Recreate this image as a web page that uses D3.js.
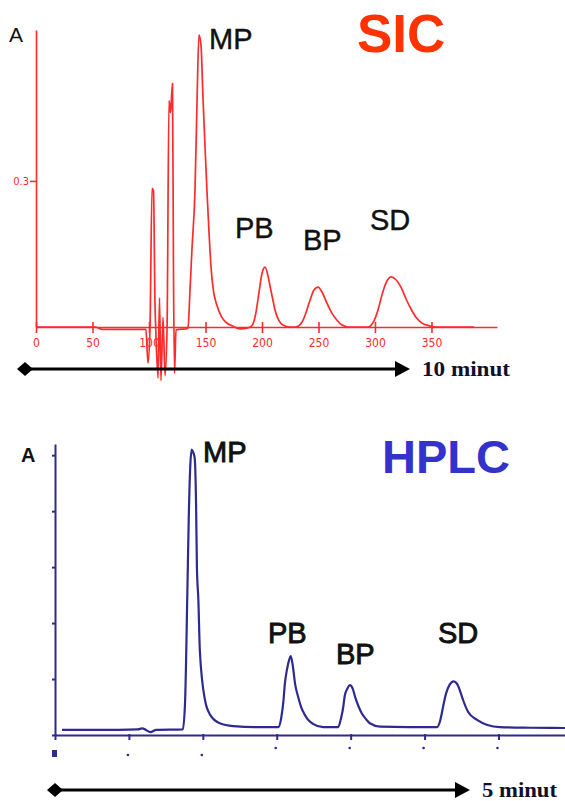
<!DOCTYPE html>
<head>
    <meta charset="utf-8">
    <title>SIC vs HPLC chromatograms</title>
    <style>
        body { margin: 0; background: #fff; }
        svg { display: block; }
        text { font-family: "Liberation Sans", Arial, sans-serif; }
    </style>
</head>
<body>
    <svg width="565" height="801"></svg>

    <script src="https://d3js.org/d3.v7.min.js"></script>
    <script>

        // SIC trace (instrument time units, absorbance)
        var sicTime = [0, 52, 59, 97.3, 99.1, 100.9, 102.7, 104, 105.3, 106.2, 108, 109.3, 110.6, 112.4, 114.2, 116,
            117.7, 119, 120.8, 121.7, 122.6, 123.9, 134.5, 136.3, 138, 140.7, 142.5, 144.2, 146, 147.8, 149.6,
            151.3, 153, 155, 157, 160, 164, 168, 174, 180.5, 187.6, 191.2, 194.7, 197.3, 200, 202.7, 205.3, 207.3,
            209.7, 211.5, 215, 218.6, 224.8, 229.2, 235.4, 239, 242.5, 246, 249.6, 253.1, 257.5, 262, 266.4,
            270.8, 276, 293.8, 299, 302.7, 306.2, 309.7, 314.2, 318.6, 323, 327.4, 331.9, 336.3, 341.6, 348.7,
            353.9, 387.6];
        var sicAbs = [0, 0, -0.005, -0.005, -0.074, 0, 0.285, 0.28, 0.05, -0.02, -0.105, 0.06, -0.11, 0.02, -0.1, 0,
            0.465, 0.44, 0.5, 0.1, -0.095, -0.006, -0.003, 0.076, 0.158, 0.28, 0.46, 0.6, 0.58, 0.47, 0.37,
            0.28, 0.2, 0.12, 0.075, 0.045, 0.022, 0.01, 0.002, -0.004, -0.002, 0.003, 0.03, 0.07, 0.11, 0.123, 0.105, 0.082,
            0.055, 0.035, 0.013, 0.004, 0, 0, 0.01, 0.03, 0.055, 0.076, 0.082, 0.072, 0.049, 0.028, 0.014,
            0.004, 0, 0, 0.012, 0.035, 0.066, 0.09, 0.103, 0.097, 0.082, 0.058, 0.037, 0.02, 0.008, 0.002,
            0, 0];
        var sicTicks = [0, 50, 100, 150, 200, 250, 300, 350];
        var sicYTicks = [0.3];

        // HPLC trace (unlabelled time axis, arbitrary absorbance)
        var hplcTime = [0.095, 0.61, 1.12, 1.18, 1.23, 1.29, 1.37, 1.73, 1.76, 1.79, 1.81, 1.83, 1.85, 1.87, 1.89,
            1.91, 1.92, 1.94, 1.96, 2.03, 2.10, 2.23, 2.41, 2.77, 3.02, 3.06, 3.09, 3.11, 3.14, 3.17, 3.19, 3.22,
            3.25, 3.29, 3.33, 3.38, 3.44, 3.49, 3.63, 3.83, 3.87, 3.90, 3.92, 3.96, 3.99, 4.03, 4.06, 4.11, 4.15,
            4.21, 4.26, 4.40, 5.17, 5.21, 5.25, 5.29, 5.34, 5.39, 5.43, 5.45, 5.49, 5.52, 5.59, 5.71, 5.85, 6.02,
            6.43, 6.9];
        var hplcAbs = [0.09, 0.09, 0.1, 0.12, 0.09, 0.05, 0.09, 0.1, 0.6, 2.5, 3.9, 4.8, 5.1, 5.05, 4.95,
            4.0, 3.0, 2.4, 1.5, 0.62, 0.36, 0.21, 0.16, 0.14, 0.14, 0.3, 0.6, 0.92, 1.18, 1.35, 1.41, 1.21,
            0.9, 0.68, 0.5, 0.36, 0.25, 0.2, 0.14, 0.14, 0.3, 0.5, 0.7, 0.84, 0.89, 0.82, 0.68, 0.5, 0.39,
            0.28, 0.21, 0.15, 0.14, 0.25, 0.5, 0.74, 0.9, 0.96, 0.93, 0.89, 0.75, 0.63, 0.41, 0.27, 0.18, 0.14,
            0.13, 0.125];
        var hplcTicks = [0, 1, 2, 3, 4, 5, 6];
        var hplcYTicks = [0, 1, 2, 3, 4, 5];

        var peakNames = ["MP", "PB", "BP", "SD"];

        var svg = d3.select("svg");
        var red = "#ff2a2a", blue = "#2e2a90";

        // ---------- SIC panel ----------
        var x1 = d3.scaleLinear().domain([0, 408]).range([36, 497]);
        var y1 = d3.scaleLinear().domain([0, 0.61]).range([327, 30]);

        var gx1 = svg.append("g")
            .attr("transform", "translate(0," + y1(0) + ")")
            .call(d3.axisBottom(x1).tickValues(sicTicks).tickSize(6).tickSizeOuter(0));
        gx1.selectAll("line").attr("y1", -5).attr("y2", 6);
        gx1.selectAll("text").attr("y", 11);

        var gy1 = svg.append("g")
            .attr("transform", "translate(" + x1(0) + ",0)")
            .call(d3.axisLeft(y1).tickValues(sicYTicks).tickFormat(d3.format(".1f")).tickSize(6).tickSizeOuter(0));
        gy1.selectAll("text").attr("x", -7);

        [gx1, gy1].forEach(function (g) {
            g.selectAll("path, line").attr("stroke", red).attr("stroke-width", 1.6);
            g.selectAll("text").attr("fill", red)
                .style("font-family", "'DejaVu Sans Condensed', 'Liberation Sans Narrow', sans-serif")
                .style("font-size", "12px");
        });
        gy1.selectAll("text").style("font-size", "11px");

        svg.append("path")
            .datum(d3.zip(sicTime, sicAbs))
            .attr("fill", "none")
            .attr("stroke", red)
            .attr("stroke-width", 1.7)
            .attr("d", d3.line()
                .x(function (d) { return x1(d[0]); })
                .y(function (d) { return y1(d[1]); })
                .curve(d3.curveMonotoneX));

        // ---------- HPLC panel ----------
        var x2 = d3.scaleLinear().domain([0, 6.9]).range([55, 565]);
        var y2 = d3.scaleLinear().domain([0, 5.2]).range([735, 444]);

        var gx2 = svg.append("g")
            .attr("transform", "translate(0," + y2(0) + ")")
            .call(d3.axisBottom(x2).tickValues(hplcTicks).tickFormat("").tickSize(5).tickSizeOuter(0));
        gx2.selectAll("line").attr("y1", -1).attr("y2", 5);

        var gy2 = svg.append("g")
            .attr("transform", "translate(" + x2(0) + ",0)")
            .call(d3.axisLeft(y2).tickValues(hplcYTicks).tickFormat("").tickSize(3).tickSizeOuter(0));

        [gx2, gy2].forEach(function (g) {
            g.selectAll("path, line").attr("stroke", blue).attr("stroke-width", 2);
        });

        // faded tick labels: only specks are left in the picture
        svg.append("g").selectAll("circle")
            .data(hplcTicks.slice(1))
            .enter().append("circle")
            .attr("cx", function (d) { return x2(d) - 1; })
            .attr("cy", function (d, i) { return i < 2 ? 755 : 748; })
            .attr("r", 1.3)
            .attr("fill", blue);
        svg.append("rect")
            .attr("x", x2(0) - 3).attr("y", 750).attr("width", 5).attr("height", 7)
            .attr("fill", blue);

        svg.append("path")
            .datum(d3.zip(hplcTime, hplcAbs))
            .attr("fill", "none")
            .attr("stroke", blue)
            .attr("stroke-width", 2.2)
            .attr("d", d3.line()
                .x(function (d) { return x2(d[0]); })
                .y(function (d) { return y2(d[1]); })
                .curve(d3.curveMonotoneX));

        // ---------- titles and labels ----------
        svg.append("text").attr("x", 357).attr("y", 52)
            .style("font-size", "53px").style("font-weight", "bold")
            .attr("fill", "#ff3300").text("SIC");
        svg.append("text").attr("x", 382).attr("y", 473)
            .style("font-size", "47px").style("font-weight", "bold")
            .attr("fill", "#3333cc").text("HPLC");

        svg.append("text").attr("x", 9).attr("y", 42)
            .style("font-size", "21px").attr("fill", "#111").text("A");
        svg.append("text").attr("x", 21).attr("y", 462)
            .style("font-size", "20px").style("font-weight", "bold").attr("fill", "#111").text("A");

        var sicLabelPos = [[209, 49], [235, 238], [303, 250], [370, 230]];
        var hplcLabelPos = [[203, 462], [268, 643], [336, 664], [438, 643]];

        [[sicLabelPos, 0.4], [hplcLabelPos, 0.9]].forEach(function (set) {
            svg.append("g").selectAll("text")
                .data(peakNames)
                .enter().append("text")
                .attr("x", function (d, i) { return set[0][i][0]; })
                .attr("y", function (d, i) { return set[0][i][1]; })
                .style("font-size", "29px")
                .attr("fill", "#111")
                .attr("stroke", "#111")
                .attr("stroke-width", set[1])
                .text(function (d) { return d; });
        });

        // ---------- time arrows ----------
        function arrow(x0, xEnd, y, label, width) {
            var g = svg.append("g");
            g.append("line").attr("x1", x0).attr("x2", xEnd - 12).attr("y1", y).attr("y2", y)
                .attr("stroke", "#000").attr("stroke-width", 3);
            g.append("path")
                .attr("d", "M" + (x0 - 8) + "," + y + "L" + x0 + "," + (y - 7) + "L" + (x0 + 8) + "," + y + "L" + x0 + "," + (y + 7) + "Z")
                .attr("fill", "#000");
            g.append("path")
                .attr("d", "M" + (xEnd - 15) + "," + (y - 8) + "L" + xEnd + "," + y + "L" + (xEnd - 15) + "," + (y + 8) + "Z")
                .attr("fill", "#000");
            g.append("text").attr("x", xEnd + 12).attr("y", y + 7)
                .attr("textLength", width).attr("lengthAdjust", "spacingAndGlyphs")
                .style("font-family", "'Liberation Serif', 'Times New Roman', serif")
                .style("font-size", "20px").style("font-weight", "bold")
                .attr("fill", "#10102a").text(label);
        }
        arrow(25, 410, 369, "10 minut", 88);
        arrow(55, 470, 790, "5 minut", 75);

    </script>
</body>
